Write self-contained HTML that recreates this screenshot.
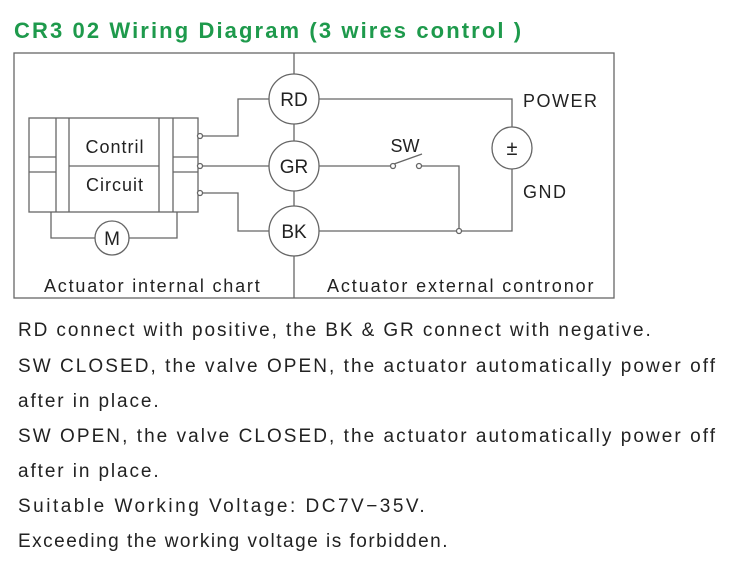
<!DOCTYPE html>
<html><head><style>
body{margin:0;background:#fff;width:743px;height:580px;overflow:hidden;font-family:"Liberation Sans",sans-serif;}
.t{position:absolute;left:14px;top:18px;font-size:22px;font-weight:bold;color:#1e9a4c;letter-spacing:2.1px;white-space:nowrap;}
.p{position:absolute;left:18px;font-size:19px;color:#222;letter-spacing:1.9px;white-space:nowrap;}
</style></head><body>
<div class="t">CR3 02 Wiring Diagram (3 wires control )</div>
<svg width="743" height="580" style="position:absolute;left:0;top:0" font-family="Liberation Sans, sans-serif" fill="none" stroke="#666" stroke-width="1.3">
<rect x="14" y="53" width="600" height="245"/>
<line x1="294" y1="53" x2="294" y2="298"/>
<rect x="29" y="118" width="169" height="94"/>
<line x1="56" y1="118" x2="56" y2="212"/><line x1="69" y1="118" x2="69" y2="212"/>
<line x1="159" y1="118" x2="159" y2="212"/><line x1="173" y1="118" x2="173" y2="212"/>
<line x1="69" y1="166" x2="159" y2="166"/>
<line x1="29" y1="157" x2="56" y2="157"/><line x1="29" y1="172" x2="56" y2="172"/>
<line x1="173" y1="157" x2="198" y2="157"/><line x1="173" y1="172" x2="198" y2="172"/>
<polyline points="51,212 51,238 95,238"/><polyline points="177,212 177,238 129,238"/>
<polyline points="198,136 238,136 238,99 269,99"/>
<line x1="198" y1="166" x2="269" y2="166"/>
<polyline points="198,193 238,193 238,231 269,231"/>
<polyline points="319,99 512,99 512,127"/>
<polyline points="512,169 512,231 319,231"/>
<line x1="319" y1="166" x2="391" y2="166"/>
<line x1="394" y1="164" x2="422" y2="154"/>
<polyline points="421,166 459,166 459,231"/>
<g fill="#fff">
<circle cx="294" cy="99" r="25"/><circle cx="294" cy="166" r="25"/><circle cx="294" cy="231" r="25"/>
<circle cx="112" cy="238" r="17"/>
<ellipse cx="512" cy="148" rx="20" ry="21"/>
<circle cx="200" cy="136" r="2.5"/><circle cx="200" cy="166" r="2.5"/><circle cx="200" cy="193" r="2.5"/>
<circle cx="393" cy="166" r="2.5"/><circle cx="419" cy="166" r="2.5"/><circle cx="459" cy="231" r="2.5"/>
</g>
<g fill="#222" stroke="none" font-size="18" text-anchor="middle">
<text x="294" y="106" font-size="19">RD</text><text x="294" y="173" font-size="19">GR</text><text x="294" y="238" font-size="19">BK</text>
<text x="112" y="245" font-size="19">M</text>
<text x="512" y="155" font-size="20">±</text>
<text x="115" y="153" letter-spacing="1">Contril</text><text x="115" y="191" letter-spacing="1">Circuit</text>
<text x="405" y="152">SW</text>
</g>
<g fill="#222" stroke="none" font-size="18">
<text x="44" y="292" letter-spacing="1.8">Actuator internal chart</text>
<text x="327" y="292" letter-spacing="1.9">Actuator external contronor</text>
<text x="523" y="107" letter-spacing="1.5">POWER</text>
<text x="523" y="198" letter-spacing="1.5">GND</text>
</g>
</svg>
<div class="p" style="top:320px">RD connect with positive, the BK &amp; GR connect with negative.</div>
<div class="p" style="top:356px;letter-spacing:2.05px">SW CLOSED, the valve OPEN, the actuator automatically power off</div>
<div class="p" style="top:391px">after in place.</div>
<div class="p" style="top:426px;letter-spacing:2.05px">SW OPEN, the valve CLOSED, the actuator automatically power off</div>
<div class="p" style="top:461px">after in place.</div>
<div class="p" style="top:496px;letter-spacing:2.5px">Suitable Working Voltage: DC7V−35V.</div>
<div class="p" style="top:531px;letter-spacing:1.5px">Exceeding the working voltage is forbidden.</div>
</body></html>
